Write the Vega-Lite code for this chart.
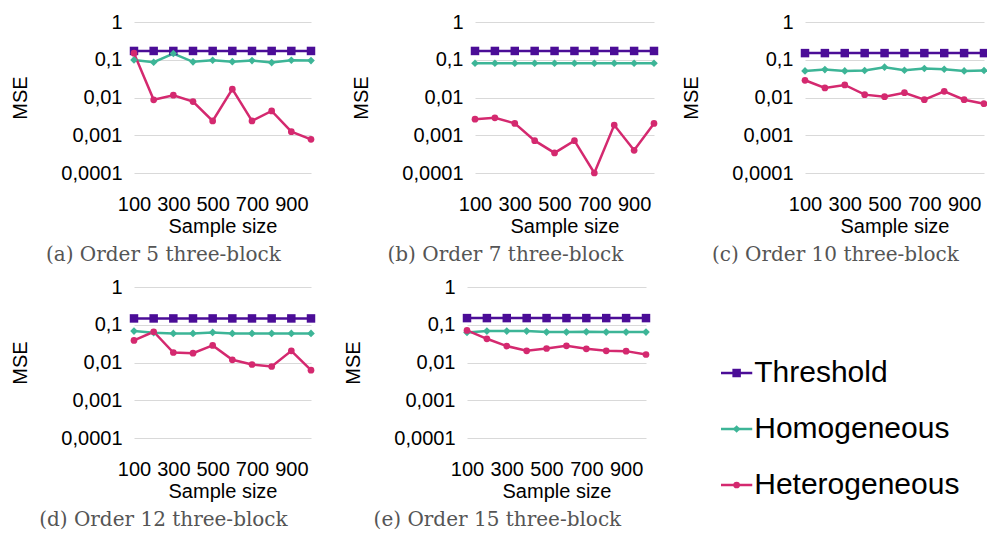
{
  "$schema": "https://vega.github.io/schema/vega-lite/v6.json",
  "padding": {"left": 10, "top": 12, "right": 0, "bottom": 0},
  "background": "white",
  "datasets": {
    "d": [
      {"panel":"a","n":100,"Threshold":0.171,"Homogeneous":0.099,"Heterogeneous":0.149},
      {"panel":"a","n":200,"Threshold":0.171,"Homogeneous":0.086,"Heterogeneous":0.0087},
      {"panel":"a","n":300,"Threshold":0.171,"Homogeneous":0.146,"Heterogeneous":0.0115},
      {"panel":"a","n":400,"Threshold":0.171,"Homogeneous":0.088,"Heterogeneous":0.0078},
      {"panel":"a","n":500,"Threshold":0.171,"Homogeneous":0.097,"Heterogeneous":0.0024},
      {"panel":"a","n":600,"Threshold":0.171,"Homogeneous":0.089,"Heterogeneous":0.0166},
      {"panel":"a","n":700,"Threshold":0.171,"Homogeneous":0.095,"Heterogeneous":0.0024},
      {"panel":"a","n":800,"Threshold":0.171,"Homogeneous":0.084,"Heterogeneous":0.0044},
      {"panel":"a","n":900,"Threshold":0.171,"Homogeneous":0.097,"Heterogeneous":0.00124},
      {"panel":"a","n":1000,"Threshold":0.171,"Homogeneous":0.095,"Heterogeneous":0.00078},
      {"panel":"b","n":100,"Threshold":0.171,"Homogeneous":0.081,"Heterogeneous":0.00267},
      {"panel":"b","n":200,"Threshold":0.171,"Homogeneous":0.081,"Heterogeneous":0.0029},
      {"panel":"b","n":300,"Threshold":0.171,"Homogeneous":0.081,"Heterogeneous":0.00206},
      {"panel":"b","n":400,"Threshold":0.171,"Homogeneous":0.081,"Heterogeneous":0.00072},
      {"panel":"b","n":500,"Threshold":0.171,"Homogeneous":0.081,"Heterogeneous":0.00034},
      {"panel":"b","n":600,"Threshold":0.171,"Homogeneous":0.081,"Heterogeneous":0.00072},
      {"panel":"b","n":700,"Threshold":0.171,"Homogeneous":0.081,"Heterogeneous":0.0001},
      {"panel":"b","n":800,"Threshold":0.171,"Homogeneous":0.081,"Heterogeneous":0.00186},
      {"panel":"b","n":900,"Threshold":0.171,"Homogeneous":0.081,"Heterogeneous":0.0004},
      {"panel":"b","n":1000,"Threshold":0.171,"Homogeneous":0.081,"Heterogeneous":0.00206},
      {"panel":"c","n":100,"Threshold":0.15,"Homogeneous":0.0507,"Heterogeneous":0.0286},
      {"panel":"c","n":200,"Threshold":0.15,"Homogeneous":0.055,"Heterogeneous":0.0179},
      {"panel":"c","n":300,"Threshold":0.15,"Homogeneous":0.0507,"Heterogeneous":0.0215},
      {"panel":"c","n":400,"Threshold":0.15,"Homogeneous":0.0518,"Heterogeneous":0.0119},
      {"panel":"c","n":500,"Threshold":0.15,"Homogeneous":0.0635,"Heterogeneous":0.0105},
      {"panel":"c","n":600,"Threshold":0.15,"Homogeneous":0.0528,"Heterogeneous":0.0134},
      {"panel":"c","n":700,"Threshold":0.15,"Homogeneous":0.0585,"Heterogeneous":0.00875},
      {"panel":"c","n":800,"Threshold":0.15,"Homogeneous":0.0561,"Heterogeneous":0.0146},
      {"panel":"c","n":900,"Threshold":0.15,"Homogeneous":0.0507,"Heterogeneous":0.00875},
      {"panel":"c","n":1000,"Threshold":0.15,"Homogeneous":0.0518,"Heterogeneous":0.00685},
      {"panel":"d","n":100,"Threshold":0.147,"Homogeneous":0.068,"Heterogeneous":0.0384},
      {"panel":"d","n":200,"Threshold":0.147,"Homogeneous":0.0613,"Heterogeneous":0.0652},
      {"panel":"d","n":300,"Threshold":0.147,"Homogeneous":0.0589,"Heterogeneous":0.0184},
      {"panel":"d","n":400,"Threshold":0.147,"Homogeneous":0.0589,"Heterogeneous":0.0177},
      {"panel":"d","n":500,"Threshold":0.147,"Homogeneous":0.0626,"Heterogeneous":0.0283},
      {"panel":"d","n":600,"Threshold":0.147,"Homogeneous":0.0589,"Heterogeneous":0.0118},
      {"panel":"d","n":700,"Threshold":0.147,"Homogeneous":0.0589,"Heterogeneous":0.00885},
      {"panel":"d","n":800,"Threshold":0.147,"Homogeneous":0.0589,"Heterogeneous":0.00783},
      {"panel":"d","n":900,"Threshold":0.147,"Homogeneous":0.0589,"Heterogeneous":0.0204},
      {"panel":"d","n":1000,"Threshold":0.147,"Homogeneous":0.0589,"Heterogeneous":0.00626},
      {"panel":"e","n":100,"Threshold":0.15,"Homogeneous":0.0626,"Heterogeneous":0.0707},
      {"panel":"e","n":200,"Threshold":0.15,"Homogeneous":0.068,"Heterogeneous":0.0425},
      {"panel":"e","n":300,"Threshold":0.15,"Homogeneous":0.068,"Heterogeneous":0.0272},
      {"panel":"e","n":400,"Threshold":0.15,"Homogeneous":0.068,"Heterogeneous":0.0204},
      {"panel":"e","n":500,"Threshold":0.15,"Homogeneous":0.064,"Heterogeneous":0.0235},
      {"panel":"e","n":600,"Threshold":0.15,"Homogeneous":0.064,"Heterogeneous":0.0277},
      {"panel":"e","n":700,"Threshold":0.15,"Homogeneous":0.065,"Heterogeneous":0.0231},
      {"panel":"e","n":800,"Threshold":0.15,"Homogeneous":0.064,"Heterogeneous":0.0204},
      {"panel":"e","n":900,"Threshold":0.15,"Homogeneous":0.064,"Heterogeneous":0.02},
      {"panel":"e","n":1000,"Threshold":0.15,"Homogeneous":0.064,"Heterogeneous":0.0163}
    ],
    "legend": [
      {"series":"Threshold"},
      {"series":"Homogeneous"},
      {"series":"Heterogeneous"}
    ]
  },
  "vconcat": [
    {
      "hconcat": [
        {
          "hconcat": [
            {
              "width": 177, "height": 151,
              "data": {"name": "d"},
              "transform": [{"filter": "datum.panel === 'a'"}, {"fold": ["Threshold","Homogeneous","Heterogeneous"], "as": ["series","mse"]}],
              "title": "(a) Order 5 three-block",
              "encoding": {
                "x": {"field": "n", "type": "quantitative", "scale": {"domain": [100,1000], "nice": false, "zero": false}, "axis": {"title": "Sample size", "values": [100,300,500,700,900]}},
                "y": {"field": "mse", "type": "quantitative", "scale": {"type": "log", "domain": [0.0001,1], "nice": false}, "axis": {"title": "MSE", "values": [1,0.1,0.01,0.001,0.0001], "labelExpr": "replace(format(datum.value, '~g'), '.', ',')"}},
                "color": {"field": "series", "type": "nominal", "scale": {"domain": ["Threshold","Homogeneous","Heterogeneous"], "range": ["#4b0d97","#3db597","#d4296f"]}, "legend": null}
              },
              "layer": [
                {"mark": {"type": "line", "strokeWidth": 2.5}},
                {"mark": {"type": "point", "filled": true, "opacity": 1}, "encoding": {
                  "shape": {"field": "series", "type": "nominal", "scale": {"domain": ["Threshold","Homogeneous","Heterogeneous"], "range": ["square","diamond","circle"]}, "legend": null},
                  "size": {"field": "series", "type": "nominal", "scale": {"domain": ["Threshold","Homogeneous","Heterogeneous"], "range": [72,45,45]}, "legend": null}}}
              ]
            },
            {
              "width": 179, "height": 151,
              "data": {"name": "d"},
              "transform": [{"filter": "datum.panel === 'b'"}, {"fold": ["Threshold","Homogeneous","Heterogeneous"], "as": ["series","mse"]}],
              "title": "(b) Order 7 three-block",
              "encoding": {
                "x": {"field": "n", "type": "quantitative", "scale": {"domain": [100,1000], "nice": false, "zero": false}, "axis": {"title": "Sample size", "values": [100,300,500,700,900]}},
                "y": {"field": "mse", "type": "quantitative", "scale": {"type": "log", "domain": [0.0001,1], "nice": false}, "axis": {"title": "MSE", "values": [1,0.1,0.01,0.001,0.0001], "labelExpr": "replace(format(datum.value, '~g'), '.', ',')"}},
                "color": {"field": "series", "type": "nominal", "scale": {"domain": ["Threshold","Homogeneous","Heterogeneous"], "range": ["#4b0d97","#3db597","#d4296f"]}, "legend": null}
              },
              "layer": [
                {"mark": {"type": "line", "strokeWidth": 2.5}},
                {"mark": {"type": "point", "filled": true, "opacity": 1}, "encoding": {
                  "shape": {"field": "series", "type": "nominal", "scale": {"domain": ["Threshold","Homogeneous","Heterogeneous"], "range": ["square","diamond","circle"]}, "legend": null},
                  "size": {"field": "series", "type": "nominal", "scale": {"domain": ["Threshold","Homogeneous","Heterogeneous"], "range": [72,45,45]}, "legend": null}}}
              ]
            }
          ],
          "spacing": 35
        },
        {
          "width": 179, "height": 151,
          "data": {"name": "d"},
          "transform": [{"filter": "datum.panel === 'c'"}, {"fold": ["Threshold","Homogeneous","Heterogeneous"], "as": ["series","mse"]}],
          "title": "(c) Order 10 three-block",
          "encoding": {
            "x": {"field": "n", "type": "quantitative", "scale": {"domain": [100,1000], "nice": false, "zero": false}, "axis": {"title": "Sample size", "values": [100,300,500,700,900]}},
            "y": {"field": "mse", "type": "quantitative", "scale": {"type": "log", "domain": [0.0001,1], "nice": false}, "axis": {"title": "MSE", "values": [1,0.1,0.01,0.001,0.0001], "labelExpr": "replace(format(datum.value, '~g'), '.', ',')"}},
            "color": {"field": "series", "type": "nominal", "scale": {"domain": ["Threshold","Homogeneous","Heterogeneous"], "range": ["#4b0d97","#3db597","#d4296f"]}, "legend": null}
          },
          "layer": [
            {"mark": {"type": "line", "strokeWidth": 2.5}},
            {"mark": {"type": "point", "filled": true, "opacity": 1}, "encoding": {
              "shape": {"field": "series", "type": "nominal", "scale": {"domain": ["Threshold","Homogeneous","Heterogeneous"], "range": ["square","diamond","circle"]}, "legend": null},
              "size": {"field": "series", "type": "nominal", "scale": {"domain": ["Threshold","Homogeneous","Heterogeneous"], "range": [72,45,45]}, "legend": null}}}
          ]
        }
      ],
      "spacing": 22
    },
    {
      "hconcat": [
        {
          "hconcat": [
            {
              "width": 177, "height": 151,
              "data": {"name": "d"},
              "transform": [{"filter": "datum.panel === 'd'"}, {"fold": ["Threshold","Homogeneous","Heterogeneous"], "as": ["series","mse"]}],
              "title": "(d) Order 12 three-block",
              "encoding": {
                "x": {"field": "n", "type": "quantitative", "scale": {"domain": [100,1000], "nice": false, "zero": false}, "axis": {"title": "Sample size", "values": [100,300,500,700,900]}},
                "y": {"field": "mse", "type": "quantitative", "scale": {"type": "log", "domain": [0.0001,1], "nice": false}, "axis": {"title": "MSE", "values": [1,0.1,0.01,0.001,0.0001], "labelExpr": "replace(format(datum.value, '~g'), '.', ',')"}},
                "color": {"field": "series", "type": "nominal", "scale": {"domain": ["Threshold","Homogeneous","Heterogeneous"], "range": ["#4b0d97","#3db597","#d4296f"]}, "legend": null}
              },
              "layer": [
                {"mark": {"type": "line", "strokeWidth": 2.5}},
                {"mark": {"type": "point", "filled": true, "opacity": 1}, "encoding": {
                  "shape": {"field": "series", "type": "nominal", "scale": {"domain": ["Threshold","Homogeneous","Heterogeneous"], "range": ["square","diamond","circle"]}, "legend": null},
                  "size": {"field": "series", "type": "nominal", "scale": {"domain": ["Threshold","Homogeneous","Heterogeneous"], "range": [72,45,45]}, "legend": null}}}
              ]
            },
            {
              "width": 179, "height": 151,
              "data": {"name": "d"},
              "transform": [{"filter": "datum.panel === 'e'"}, {"fold": ["Threshold","Homogeneous","Heterogeneous"], "as": ["series","mse"]}],
              "title": "(e) Order 15 three-block",
              "encoding": {
                "x": {"field": "n", "type": "quantitative", "scale": {"domain": [100,1000], "nice": false, "zero": false}, "axis": {"title": "Sample size", "values": [100,300,500,700,900]}},
                "y": {"field": "mse", "type": "quantitative", "scale": {"type": "log", "domain": [0.0001,1], "nice": false}, "axis": {"title": "MSE", "values": [1,0.1,0.01,0.001,0.0001], "labelExpr": "replace(format(datum.value, '~g'), '.', ',')"}},
                "color": {"field": "series", "type": "nominal", "scale": {"domain": ["Threshold","Homogeneous","Heterogeneous"], "range": ["#4b0d97","#3db597","#d4296f"]}, "legend": null}
              },
              "layer": [
                {"mark": {"type": "line", "strokeWidth": 2.5}},
                {"mark": {"type": "point", "filled": true, "opacity": 1}, "encoding": {
                  "shape": {"field": "series", "type": "nominal", "scale": {"domain": ["Threshold","Homogeneous","Heterogeneous"], "range": ["square","diamond","circle"]}, "legend": null},
                  "size": {"field": "series", "type": "nominal", "scale": {"domain": ["Threshold","Homogeneous","Heterogeneous"], "range": [72,45,45]}, "legend": null}}}
              ]
            }
          ],
          "spacing": 27
        },
        {
          "width": 250, "height": 198,
          "data": {"name": "legend"},
          "encoding": {
            "y": {"field": "series", "type": "nominal", "scale": {"type": "point", "domain": ["Threshold","Homogeneous","Heterogeneous"], "padding": 0.768, "align": 1}, "axis": null},
            "color": {"field": "series", "type": "nominal", "scale": {"domain": ["Threshold","Homogeneous","Heterogeneous"], "range": ["#4b0d97","#3db597","#d4296f"]}, "legend": null}
          },
          "layer": [
            {"mark": {"type": "rule", "strokeWidth": 2.5}, "encoding": {
              "x": {"datum": 0, "type": "quantitative", "scale": {"domain": [0,8], "nice": false, "zero": false}, "axis": null},
              "x2": {"datum": 1}}},
            {"mark": {"type": "point", "filled": true, "opacity": 1}, "encoding": {
              "x": {"datum": 0.5, "type": "quantitative"},
              "shape": {"field": "series", "type": "nominal", "scale": {"domain": ["Threshold","Homogeneous","Heterogeneous"], "range": ["square","diamond","circle"]}, "legend": null},
              "size": {"field": "series", "type": "nominal", "scale": {"domain": ["Threshold","Homogeneous","Heterogeneous"], "range": [100,80,80]}, "legend": null}}},
            {"mark": {"type": "text", "align": "left", "baseline": "middle", "dx": 2, "fontSize": 30, "font": "Liberation Sans", "color": "#000"}, "encoding": {
              "x": {"datum": 1, "type": "quantitative"},
              "text": {"field": "series"},
              "color": {"value": "#000"}}}
          ]
        }
      ],
      "spacing": 68
    }
  ],
  "spacing": 12,
  "config": {
    "view": {"stroke": null},
    "font": "Liberation Sans",
    "axis": {"labelFontSize": 20, "titleFontSize": 20, "labelColor": "#000", "titleColor": "#000", "titleFontWeight": "normal", "domain": false, "ticks": false, "gridColor": "#d9d9d9", "labelFont": "Liberation Sans", "titleFont": "Liberation Sans"},
    "axisX": {"grid": false, "labelPadding": 21, "titlePadding": 2, "labelFlush": false, "labelOverlap": false, "labelAngle": 0},
    "axisY": {"grid": true, "labelPadding": 12, "titlePadding": 30, "labelOverlap": false},
    "title": {"orient": "bottom", "font": "DejaVu Serif", "fontSize": 20, "fontWeight": "normal", "color": "#555555", "frame": "bounds", "anchor": "middle", "offset": 9}
  }
}
